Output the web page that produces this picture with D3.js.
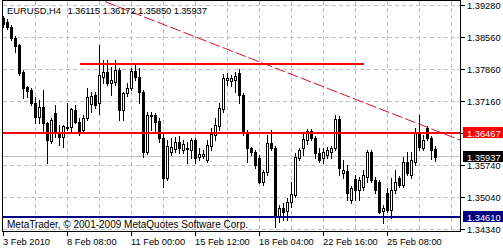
<!DOCTYPE html>
<html><head><meta charset="utf-8">
<script src="https://cdn.jsdelivr.net/npm/d3@7"></script>
<style>html,body{margin:0;padding:0;background:#fff;overflow:hidden}</style>
</head><body>
<svg id="c" width="503" height="250"></svg>
<script>
const symbolName = "EURUSD,H4";
const headerValues = ["1.36115", "1.36172", "1.35850", "1.35937"];
const open = [1.3899,1.3891,1.3880,1.3855,1.3840,1.3780,1.3747,1.3741,1.3712,1.3681,
1.3703,1.3668,1.3628,1.3690,1.3648,1.3637,1.3659,1.3659,1.3697,1.3670,
1.3653,1.3679,1.3710,1.3730,1.3712,1.3769,1.3780,1.3756,1.3758,1.3785,
1.3697,1.3734,1.3745,1.3783,1.3769,1.3736,1.3604,1.3686,1.3686,1.3672,
1.3635,1.3547,1.3604,1.3611,1.3626,1.3609,1.3611,1.3609,1.3631,1.3593,
1.3595,1.3587,1.3617,1.3642,1.3662,1.3699,1.3763,1.3761,1.3763,1.3778,
1.3730,1.3648,1.3613,1.3604,1.3591,1.3538,1.3560,1.3624,1.3613,1.3463,
1.3481,1.3474,1.3494,1.3510,1.3591,1.3613,1.3631,1.3650,1.3635,1.3602,
1.3591,1.3598,1.3604,1.3613,1.3677,1.3558,1.3563,1.3499,1.3545,1.3521,
1.3527,1.3549,1.3604,1.3543,1.3538,1.3474,1.3514,1.3477,1.3521,1.3547,
1.3532,1.3582,1.3554,1.3582,1.3646,1.3613,1.3657,1.3635,1.36115];
const high = [1.3904,1.3897,1.3884,1.3860,1.3842,1.3785,1.3750,1.3745,1.3725,1.3719,
1.3741,1.3670,1.3679,1.3708,1.3664,1.3664,1.3712,1.3701,1.3708,1.3679,
1.3686,1.3745,1.3736,1.3736,1.3840,1.3807,1.3807,1.3791,1.3807,1.3789,
1.3736,1.3756,1.3789,1.3796,1.3789,1.3741,1.3692,1.3692,1.3690,1.3679,
1.3646,1.3631,1.3635,1.3637,1.3639,1.3631,1.3626,1.3635,1.3635,1.3613,
1.3609,1.3631,1.3657,1.3679,1.3712,1.3776,1.3778,1.3774,1.3780,1.3787,
1.3734,1.3653,1.3615,1.3609,1.3598,1.3565,1.3642,1.3653,1.3617,1.3488,
1.3492,1.3503,1.3538,1.3602,1.3613,1.3648,1.3655,1.3655,1.3639,1.3613,
1.3613,1.3615,1.3617,1.3686,1.3684,1.3587,1.3576,1.3529,1.3554,1.3549,
1.3565,1.3609,1.3609,1.3549,1.3543,1.3488,1.3525,1.3547,1.3565,1.3551,
1.3593,1.3604,1.3604,1.3657,1.3686,1.3642,1.3661,1.3639,1.36172];
const low = [1.3880,1.3875,1.3851,1.3825,1.3774,1.3723,1.3725,1.3708,1.3668,1.3668,
1.3646,1.3580,1.3624,1.3637,1.3620,1.3615,1.3653,1.3648,1.3668,1.3642,
1.3648,1.3675,1.3692,1.3701,1.3688,1.3756,1.3752,1.3730,1.3752,1.3675,
1.3675,1.3728,1.3741,1.3763,1.3712,1.3593,1.3600,1.3653,1.3648,1.3626,
1.3527,1.3543,1.3598,1.3604,1.3602,1.3602,1.3580,1.3591,1.3580,1.3587,
1.3591,1.3582,1.3609,1.3631,1.3653,1.3692,1.3752,1.3750,1.3736,1.3712,
1.3642,1.3582,1.3598,1.3569,1.3536,1.3532,1.3554,1.3609,1.3439,1.3450,
1.3455,1.3455,1.3483,1.3505,1.3587,1.3598,1.3622,1.3631,1.3591,1.3582,
1.3580,1.3591,1.3591,1.3609,1.3554,1.3547,1.3499,1.3492,1.3499,1.3499,
1.3521,1.3538,1.3538,1.3514,1.3470,1.3448,1.3472,1.3459,1.3514,1.3527,
1.3527,1.3554,1.3547,1.3576,1.3609,1.3609,1.3631,1.3589,1.35850];
const close = [1.3886,1.3880,1.3855,1.3838,1.3778,1.3745,1.3739,1.3712,1.3681,1.3703,
1.3668,1.3631,1.3675,1.3648,1.3637,1.3662,1.3657,1.3699,1.3670,1.3651,
1.3679,1.3725,1.3728,1.3708,1.3774,1.3780,1.3756,1.3763,1.3785,1.3697,
1.3734,1.3745,1.3783,1.3769,1.3736,1.3604,1.3686,1.3684,1.3670,1.3635,
1.3547,1.3617,1.3615,1.3626,1.3613,1.3622,1.3613,1.3631,1.3591,1.3600,
1.3600,1.3620,1.3644,1.3664,1.3701,1.3767,1.3767,1.3767,1.3772,1.3730,
1.3648,1.3613,1.3604,1.3576,1.3538,1.3560,1.3624,1.3613,1.3461,1.3481,
1.3472,1.3494,1.3512,1.3593,1.3609,1.3633,1.3650,1.3635,1.3602,1.3587,
1.3604,1.3609,1.3613,1.3677,1.3569,1.3565,1.3514,1.3525,1.3521,1.3543,
1.3554,1.3604,1.3543,1.3521,1.3472,1.3481,1.3477,1.3521,1.3538,1.3532,
1.3582,1.3558,1.3587,1.3646,1.3615,1.3631,1.3635,1.3609,1.35937];
const xTickIndex = [0, 16, 32, 48, 64, 80, 96];
const xTickLabels = ["3 Feb 2010", "8 Feb 08:00", "11 Feb 00:00", "15 Feb 12:00", "18 Feb 04:00", "22 Feb 16:00", "25 Feb 08:00"];
const gridIndex = [8, 16, 24, 32, 40, 48, 56, 64, 72, 80, 88, 96, 104, 112];
const yTicks = [1.39280, 1.38560, 1.37860, 1.37160, 1.36450, 1.35740, 1.35040, 1.34340];
const yTickLabels = ["1.39280", "1.38560", "1.37860", "1.37160", "", "1.35740", "1.35040", "1.34340"];
const levelPrices = [1.36467, 1.34610];
const levelLabels = ["1.36467", "1.34610"];
const levelColors = ["#ff0000", "#000080"];
const segmentIndex = [19, 90];
const segmentPrice = 1.37974;
const trendIndex = [25.4, 114.1];
const trendPrice = [1.39353, 1.36307];
const bidPrice = 1.35937;
const bidLabel = "1.35937";
const copyright = "MetaTrader, \u00a9 2001-2009 MetaQuotes Software Corp.";

const svg = d3.select("#c");
const FONT = "Liberation Sans, Arial, sans-serif";
const L = 2.5, R = 460.5, T = 0.5, B = 231.5;
const x = d3.scaleLinear().domain([0, 108]).range([3.5, 435.5]);
const y = d3.scaleLinear().domain([1.34340, 1.39280]).range([229.3, 5]);

svg.append("rect").attr("width", 503).attr("height", 250).attr("fill", "#fff");
svg.append("defs").append("clipPath").attr("id", "clip")
  .append("rect").attr("x", L + 0.5).attr("y", T + 0.5).attr("width", R - L - 1).attr("height", B - T - 1);

const plot = svg.append("g").attr("clip-path", "url(#clip)").attr("shape-rendering", "crispEdges");

// grid
plot.selectAll("line.vg").data(gridIndex).join("line")
  .attr("x1", d => Math.floor(x(d)) + 0.5).attr("x2", d => Math.floor(x(d)) + 0.5)
  .attr("y1", T).attr("y2", B)
  .attr("stroke", "#c0c0c0").attr("stroke-dasharray", "4,3");
plot.selectAll("line.hg").data(yTicks).join("line")
  .attr("x1", L).attr("x2", R)
  .attr("y1", d => Math.floor(y(d)) + 0.5).attr("y2", d => Math.floor(y(d)) + 0.5)
  .attr("stroke", "#c0c0c0").attr("stroke-dasharray", "4,3");

// bid line
plot.append("line").attr("x1", L).attr("x2", R)
  .attr("y1", Math.floor(y(bidPrice)) + 0.5).attr("y2", Math.floor(y(bidPrice)) + 0.5)
  .attr("stroke", "#c0c0c0");

// candles
const data = open.map((o, i) => ({ i, o, h: high[i], l: low[i], c: close[i] }));
plot.selectAll("line.wick").data(data).join("line")
  .attr("x1", d => Math.floor(x(d.i)) + 0.5).attr("x2", d => Math.floor(x(d.i)) + 0.5)
  .attr("y1", d => Math.round(y(d.h))).attr("y2", d => Math.round(y(d.l)) + 1)
  .attr("stroke", "#000");
plot.selectAll("rect.body").data(data).join("rect")
  .each(function (d) {
    const top = Math.round(y(Math.max(d.o, d.c)));
    const bot = Math.round(y(Math.min(d.o, d.c)));
    const cx = Math.floor(x(d.i));
    const s = d3.select(this);
    if (d.c >= d.o) {
      s.attr("x", cx - 1 + 0.5).attr("y", top + 0.5).attr("width", 2).attr("height", Math.max(0, bot - top))
        .attr("fill", "#fff").attr("stroke", "#000");
    } else {
      s.attr("x", cx - 1).attr("y", top).attr("width", 3).attr("height", Math.max(1, bot - top + 1))
        .attr("fill", "#000");
    }
  });

// horizontal red segment
plot.append("line")
  .attr("x1", x(segmentIndex[0])).attr("x2", x(segmentIndex[1]))
  .attr("y1", Math.round(y(segmentPrice))).attr("y2", Math.round(y(segmentPrice)))
  .attr("stroke", "#ff0000").attr("stroke-width", 2);

// level lines
plot.selectAll("line.lvl").data(levelPrices).join("line")
  .attr("x1", L).attr("x2", R)
  .attr("y1", d => Math.round(y(d))).attr("y2", d => Math.round(y(d)))
  .attr("stroke", (d, i) => levelColors[i]).attr("stroke-width", 2);

// dashed trend line
svg.append("g").attr("clip-path", "url(#clip)").append("line")
  .attr("x1", x(trendIndex[0])).attr("y1", y(trendPrice[0]))
  .attr("x2", x(trendIndex[1])).attr("y2", y(trendPrice[1]))
  .attr("stroke", "#d8102a").attr("stroke-width", 1).attr("stroke-dasharray", "11,3");

// frame
svg.append("rect").attr("x", L).attr("y", T).attr("width", R - L).attr("height", B - T)
  .attr("fill", "none").attr("stroke", "#000").attr("shape-rendering", "crispEdges");

// header text
svg.append("text").attr("x", 7).attr("y", 14).attr("font-family", FONT).attr("font-size", 9.5)
  .attr("fill", "#000").attr("textLength", 54).attr("lengthAdjust", "spacingAndGlyphs").text(symbolName);
svg.append("text").attr("x", 67.5).attr("y", 14).attr("font-family", FONT).attr("font-size", 9.5)
  .attr("fill", "#000").attr("textLength", 139.5).attr("lengthAdjust", "spacing").text(headerValues.join(" "));

// copyright
svg.append("text").attr("x", 7).attr("y", 228).attr("font-family", FONT).attr("font-size", 10)
  .attr("fill", "#000").attr("textLength", 241).attr("lengthAdjust", "spacingAndGlyphs").text(copyright);

// x axis ticks and labels
svg.selectAll("line.xt").data(xTickIndex).join("line")
  .attr("x1", d => Math.floor(x(d)) + 0.5).attr("x2", d => Math.floor(x(d)) + 0.5)
  .attr("y1", B).attr("y2", B + 4).attr("stroke", "#000").attr("shape-rendering", "crispEdges");
svg.selectAll("text.xl").data(xTickIndex).join("text")
  .attr("x", d => Math.floor(x(d))).attr("y", 245)
  .attr("font-family", FONT).attr("font-size", 9.3).attr("fill", "#000")
  .text((d, i) => xTickLabels[i]);

// y axis ticks and labels
svg.selectAll("line.yt").data(yTicks).join("line")
  .attr("x1", R).attr("x2", R + 4)
  .attr("y1", d => Math.floor(y(d)) + 0.5).attr("y2", d => Math.floor(y(d)) + 0.5)
  .attr("stroke", "#000").attr("shape-rendering", "crispEdges");
svg.selectAll("text.yl").data(yTicks).join("text")
  .attr("x", 467).attr("y", d => y(d) + 3.5)
  .attr("font-family", FONT).attr("font-size", 9.3).attr("fill", "#000")
  .text((d, i) => yTickLabels[i]);

// price label boxes
const boxes = [
  { p: levelPrices[0], t: levelLabels[0], c: levelColors[0] },
  { p: bidPrice, t: bidLabel, c: "#000" },
  { p: levelPrices[1], t: levelLabels[1], c: levelColors[1] }
];
const bg = svg.selectAll("g.box").data(boxes).join("g");
bg.append("rect").attr("x", 463).attr("y", d => Math.round(y(d.p)) - 6).attr("width", 40).attr("height", 11)
  .attr("fill", d => d.c).attr("shape-rendering", "crispEdges");
bg.append("text").attr("x", 467).attr("y", d => Math.round(y(d.p)) + 3.5)
  .attr("font-family", FONT).attr("font-size", 9.3).attr("fill", "#fff").text(d => d.t);
</script>
</body></html>
